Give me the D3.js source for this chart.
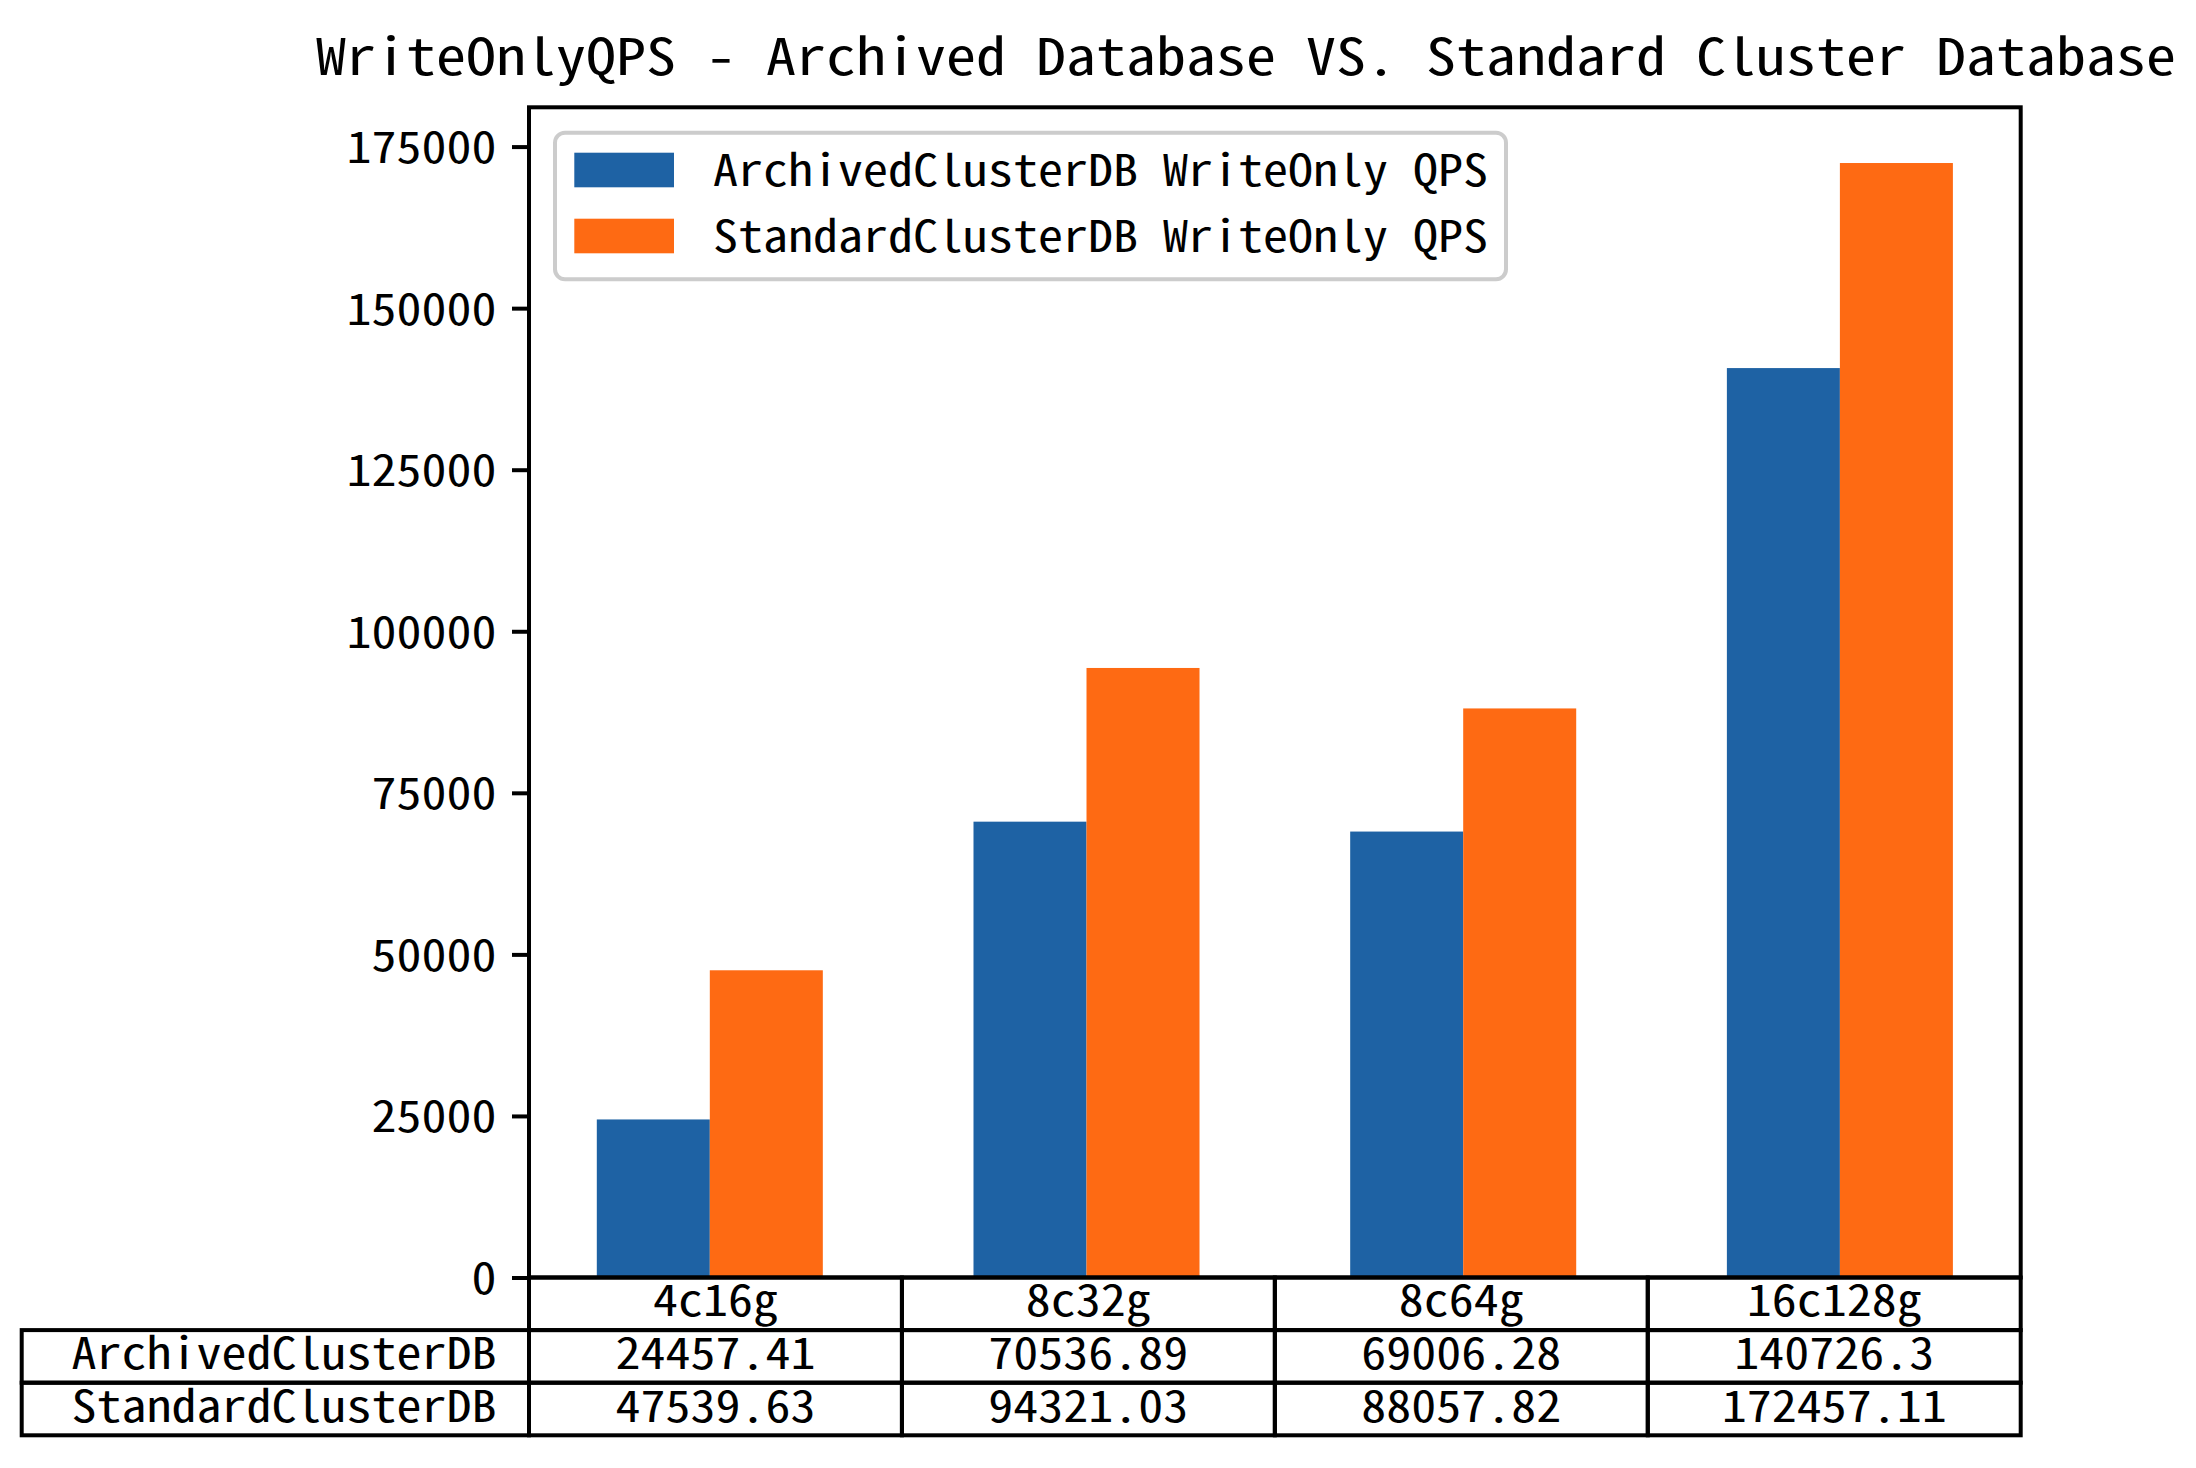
<!DOCTYPE html>
<html>
<head>
<meta charset="utf-8">
<script src="https://cdn.jsdelivr.net/npm/d3@7"></script>
<style>
  html, body { margin: 0; padding: 0; background: #ffffff; }
  svg { display: block; }
</style>
</head>
<body>
<svg id="chart" width="2196" height="1468"></svg>
<script>
// ---------------- data ----------------
const titleText = "WriteOnlyQPS - Archived Database VS. Standard Cluster Database";
const categories = ["4c16g", "8c32g", "8c64g", "16c128g"];
const seriesNames = ["ArchivedClusterDB", "StandardClusterDB"];
const legendLabels = ["ArchivedClusterDB WriteOnly QPS", "StandardClusterDB WriteOnly QPS"];
const archivedQPS = [24457.41, 70536.89, 69006.28, 140726.3];
const standardQPS = [47539.63, 94321.03, 88057.82, 172457.11];
const yTickValues = [0, 25000, 50000, 75000, 100000, 125000, 150000, 175000];
const yMax = 181080;          // axis upper limit (max * 1.05)
const xDomain = [-0.48, 3.48]; // category index range incl. margins
const barWidth = 0.3;

// ---------------- layout / style ----------------
const FONT = "'Noto Sans Mono CJK SC', 'DejaVu Sans Mono', 'Liberation Mono', monospace";
const colors = ["#1e62a4", "#fe6a13"];
const plot = { left: 529, right: 2020.7, top: 107.3, bottom: 1277.5 };
const fs = 44, adv = 25;         // body font size & per-char advance
const tfs = 51, tadv = 30;       // title
const tableLeft = 21.7, rowH = 52.6;

const svg = d3.select("#chart");

const x = d3.scaleLinear().domain(xDomain).range([plot.left, plot.right]);
const y = d3.scaleLinear().domain([0, yMax]).range([plot.bottom, plot.top]);

function txt(g, s, px, py, size, a, anchor) {
  const w = s.length * a;
  let x0 = px;
  if (anchor === "middle") x0 = px - w / 2;
  else if (anchor === "end") x0 = px - w;
  return g.append("text")
    .attr("x", x0).attr("y", py)
    .attr("font-family", FONT).attr("font-size", size)
    .attr("fill", "#000")
    .attr("textLength", w).attr("lengthAdjust", "spacingAndGlyphs")
    .text(s);
}

// bars
const series = [archivedQPS, standardQPS];
series.forEach((vals, si) => {
  svg.append("g").selectAll("rect")
    .data(vals)
    .join("rect")
    .attr("x", (d, i) => x(i - barWidth + si * barWidth))
    .attr("width", (d, i) => x(i + barWidth) - x(i))
    .attr("y", d => y(d))
    .attr("height", d => y(0) - y(d))
    .attr("fill", colors[si]);
});

// y axis
const yAxis = svg.append("g")
  .attr("transform", `translate(${plot.left},0)`)
  .call(d3.axisLeft(y).tickValues(yTickValues).tickSize(17).tickFormat(d3.format("d")));
yAxis.select(".domain").remove();
yAxis.selectAll(".tick line").attr("stroke", "#000").attr("stroke-width", 4);
yAxis.selectAll(".tick text").remove();
yTickValues.forEach(v => {
  txt(svg, String(v), plot.left - 17 - 17.5 + 2, y(v) + 16.5, fs, adv, "end");
});

// axes frame
svg.append("rect")
  .attr("x", plot.left).attr("y", plot.top)
  .attr("width", plot.right - plot.left).attr("height", plot.bottom - plot.top)
  .attr("fill", "none").attr("stroke", "#000").attr("stroke-width", 4);

// title
txt(svg, titleText, 316, 75, tfs, tadv, "start");

// legend
const lg = svg.append("g");
lg.append("rect")
  .attr("x", 555).attr("y", 132.7).attr("width", 1506 - 555).attr("height", 279.3 - 132.7)
  .attr("rx", 10).attr("ry", 10)
  .attr("fill", "#fff").attr("fill-opacity", 0.8)
  .attr("stroke", "#cccccc").attr("stroke-width", 4);
legendLabels.forEach((lab, i) => {
  const yy = 152.7 + i * 66;
  lg.append("rect").attr("x", 574.3).attr("y", yy).attr("width", 99.7).attr("height", 34.6)
    .attr("fill", colors[i]);
  txt(lg, lab, 713, yy + 33.5, fs, adv, "start");
});

// table
const tb = svg.append("g");
const col = d3.scaleBand().domain(categories).range([plot.left, plot.right]).padding(0);
const rowTop = r => plot.bottom + r * rowH;
const lineAttr = sel => sel.attr("fill", "none").attr("stroke", "#000").attr("stroke-width", 4);

// header row cells
categories.forEach(c => {
  lineAttr(tb.append("rect").attr("x", col(c)).attr("y", rowTop(0))
    .attr("width", col.bandwidth()).attr("height", rowH));
  txt(tb, c, col(c) + col.bandwidth() / 2, rowTop(0) + rowH / 2 + 12.5, fs, adv, "middle");
});
// data rows
series.forEach((vals, si) => {
  const r = si + 1;
  lineAttr(tb.append("rect").attr("x", tableLeft).attr("y", rowTop(r))
    .attr("width", plot.left - tableLeft).attr("height", rowH));
  txt(tb, seriesNames[si], tableLeft + (plot.left - tableLeft) * 0.1 - 1, rowTop(r) + rowH / 2 + 12.5, fs, adv, "start");
  categories.forEach((c, ci) => {
    lineAttr(tb.append("rect").attr("x", col(c)).attr("y", rowTop(r))
      .attr("width", col.bandwidth()).attr("height", rowH));
    txt(tb, String(vals[ci]), col(c) + col.bandwidth() / 2, rowTop(r) + rowH / 2 + 12.5, fs, adv, "middle");
  });
});
</script>
</body>
</html>
